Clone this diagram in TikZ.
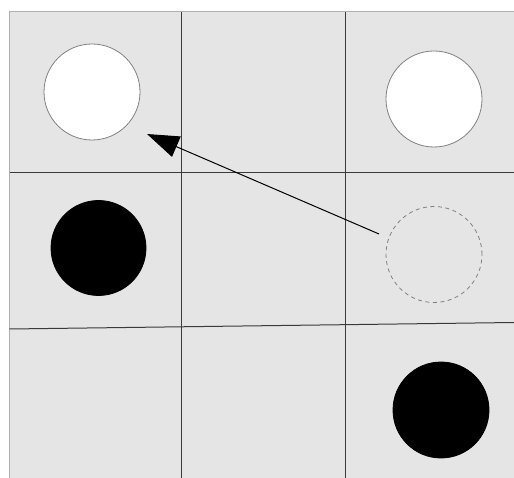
\documentclass[tikz,border=0pt]{standalone}
\usetikzlibrary{arrows.meta}
\definecolor{bggray}{HTML}{E5E5E5}
\definecolor{edgegray}{HTML}{B0B0B0}
\definecolor{gridc}{HTML}{3A3A3A}
\definecolor{ringc}{HTML}{808080}
\tikzset{
  gridline/.style={draw=gridc, line width=1pt},
  piece/.style={circle, minimum size=96pt, inner sep=0pt, line width=0.8pt},
  whitepiece/.style={piece, draw=ringc, fill=white},
  blackpiece/.style={piece, draw=black, fill=black},
  ghost/.style={piece, draw=ringc, dash pattern=on 4pt off 3.5pt},
  movearrow/.style={draw=black, line width=1pt, -{Triangle[length=32pt,width=22pt]}}
}
\begin{document}
\begin{tikzpicture}[x=1pt,y=-1pt]
\useasboundingbox (0,0) rectangle (514,478);
\fill[white] (0,0) rectangle (514,478);
\fill[bggray] (9.5,11.5) rectangle (520,484);
\draw[edgegray, line width=1pt] (9.5,484) -- (9.5,11.5) -- (520,11.5);
% grid
\draw[gridline] (181,12) -- (181,478);
\draw[gridline] (345,12) -- (345,478);
\draw[gridline] (9.5,173) -- (514,173);
\draw[gridline] (9.5,329) -- (514,322.5);
% pieces
\node[whitepiece] (a1) at (92,92) {};
\node[whitepiece] (a3) at (434,99) {};
\node[blackpiece, minimum size=95pt] (b1) at (98.5,248) {};
\node[ghost] (b3) at (434,254.5) {};
\node[blackpiece] (c3) at (441,410) {};
% move arrow
\coordinate (from) at (379,234);
\coordinate (to) at (147,134);
\draw[movearrow] (from) -- (to);
\end{tikzpicture}
\end{document}
